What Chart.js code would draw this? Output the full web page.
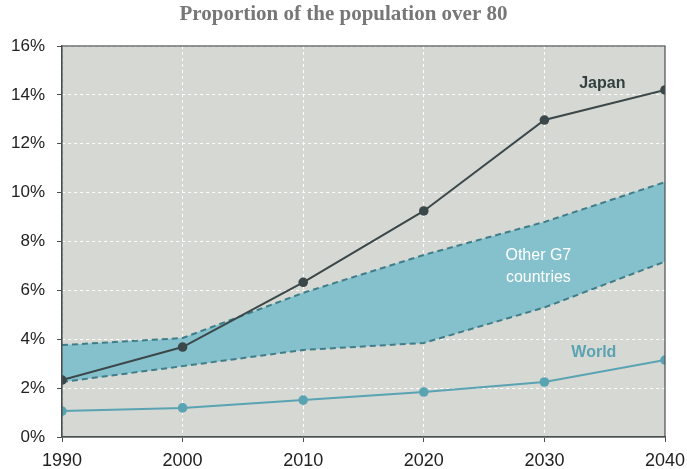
<!DOCTYPE html>
<html>
<head>
<meta charset="utf-8">
<script src="https://cdn.jsdelivr.net/npm/chart.js@4"></script>
<style>
  html, body { margin: 0; padding: 0; background: #fff; }
  #wrap { width: 687px; height: 469px; }
</style>
</head>
<body>
<div id="wrap"><canvas id="over80Chart"></canvas></div>
<script>
const years = [1990, 2000, 2010, 2020, 2030, 2040];
const japan = [2.33, 3.68, 6.33, 9.25, 12.97, 14.2];
const world = [1.06, 1.19, 1.51, 1.84, 2.25, 3.15];
const g7High = [3.76, 4.05, 5.9, 7.45, 8.8, 10.43];
const g7Low = [2.25, 2.9, 3.56, 3.85, 5.3, 7.18];
const chartTitle = 'Proportion of the population over 80';

const pts = arr => arr.map((v, i) => ({ x: years[i], y: v }));

// gray plot panel, dark frame, title and the in-chart labels
const panel = {
  id: 'panel',
  beforeDraw(chart) {
    const { ctx, chartArea: a } = chart;
    ctx.save();
    ctx.fillStyle = '#d6d8d3';
    ctx.fillRect(a.left, a.top, a.right - a.left, a.bottom - a.top);

    ctx.textAlign = 'center';
    ctx.textBaseline = 'middle';
    ctx.fillStyle = '#777777';
    ctx.font = 'bold 21px "Liberation Serif", "DejaVu Serif", serif';
    ctx.fillText(chartTitle, chart.width / 2, 15);
    ctx.restore();
  },
  afterDatasetsDraw(chart) {
    const { ctx, chartArea: a, scales } = chart;
    const x = scales.x, y = scales.y;
    ctx.save();
    ctx.strokeStyle = '#4a4f50';
    ctx.lineWidth = 1.2;
    ctx.strokeRect(a.left, a.top, a.right - a.left, a.bottom - a.top);

    ctx.textAlign = 'center';
    ctx.textBaseline = 'middle';
    ctx.font = 'bold 16px "Liberation Sans", Arial, sans-serif';
    ctx.fillStyle = '#34403f';
    ctx.fillText('Japan', x.getPixelForValue(2034.8), y.getPixelForValue(14.45));

    ctx.fillStyle = '#5aa3b3';
    ctx.fillText('World', x.getPixelForValue(2034.1), y.getPixelForValue(3.45));

    ctx.font = '16px "Liberation Sans", Arial, sans-serif';
    ctx.fillStyle = '#ffffff';
    ctx.fillText('Other G7', x.getPixelForValue(2029.5), y.getPixelForValue(7.42));
    ctx.fillText('countries', x.getPixelForValue(2029.5), y.getPixelForValue(6.52));
    ctx.restore();
  }
};

const ctx = document.getElementById('over80Chart');

new Chart(ctx, {
  type: 'line',
  data: {
    datasets: [
      {
        label: 'Japan',
        data: pts(japan),
        borderColor: '#3b4748',
        backgroundColor: '#3b4748',
        borderWidth: 2,
        pointRadius: 4.8,
        pointBorderWidth: 0,
        fill: false,
        order: 0
      },
      {
        label: 'World',
        data: pts(world),
        borderColor: '#5aa3b3',
        backgroundColor: '#5aa3b3',
        borderWidth: 2,
        pointRadius: 4.8,
        pointBorderWidth: 0,
        fill: false,
        order: 1
      },
      {
        // upper edge carries the band fill, drawn first so both edges sit on top
        label: 'Other G7 high',
        data: pts(g7High),
        borderColor: '#3f7d89',
        backgroundColor: '#84c1cd',
        borderWidth: 2,
        borderDash: [6, 4],
        pointRadius: 0,
        fill: '+1',
        order: 3
      },
      {
        label: 'Other G7 low',
        data: pts(g7Low),
        borderColor: '#3f7d89',
        borderWidth: 2,
        borderDash: [6, 4],
        pointRadius: 0,
        fill: false,
        order: 2
      }
    ]
  },
  options: {
    responsive: true,
    maintainAspectRatio: false,
    animation: false,
    layout: { padding: { top: 46, left: 0, right: 22, bottom: 0 } },
    plugins: {
      legend: { display: false },
      tooltip: { enabled: false },
      title: { display: false },
      filler: { drawTime: 'beforeDatasetsDraw' }
    },
    scales: {
      x: {
        type: 'linear',
        min: 1990,
        max: 2040,
        ticks: {
          stepSize: 10,
          color: '#222',
          padding: 8,
          font: { family: '"Liberation Sans", Arial, sans-serif', size: 18 },
          callback: v => String(v)
        },
        grid: { color: '#ffffff', lineWidth: 1, tickColor: '#4a4f50', tickLength: 5, tickBorderDash: [] },
        border: { display: true, color: '#4a4f50', width: 1.2, dash: [3, 3] },
        afterFit(scale) {
          scale.height = 32;
          scale.paddingLeft = 0;
          scale.paddingRight = 0;
        }
      },
      y: {
        min: 0,
        max: 16,
        ticks: {
          stepSize: 2,
          color: '#222',
          padding: 12,
          font: { family: '"Liberation Sans", Arial, sans-serif', size: 17 },
          callback: v => v + '%'
        },
        grid: { color: '#ffffff', lineWidth: 1, tickColor: '#4a4f50', tickLength: 5, tickBorderDash: [] },
        border: { display: true, color: '#4a4f50', width: 1.2, dash: [3, 3] },
        afterFit(scale) {
          scale.width = 62;
          scale.paddingTop = 0;
          scale.paddingBottom = 0;
        }
      }
    }
  },
  plugins: [panel]
});
</script>
</body>
</html>
